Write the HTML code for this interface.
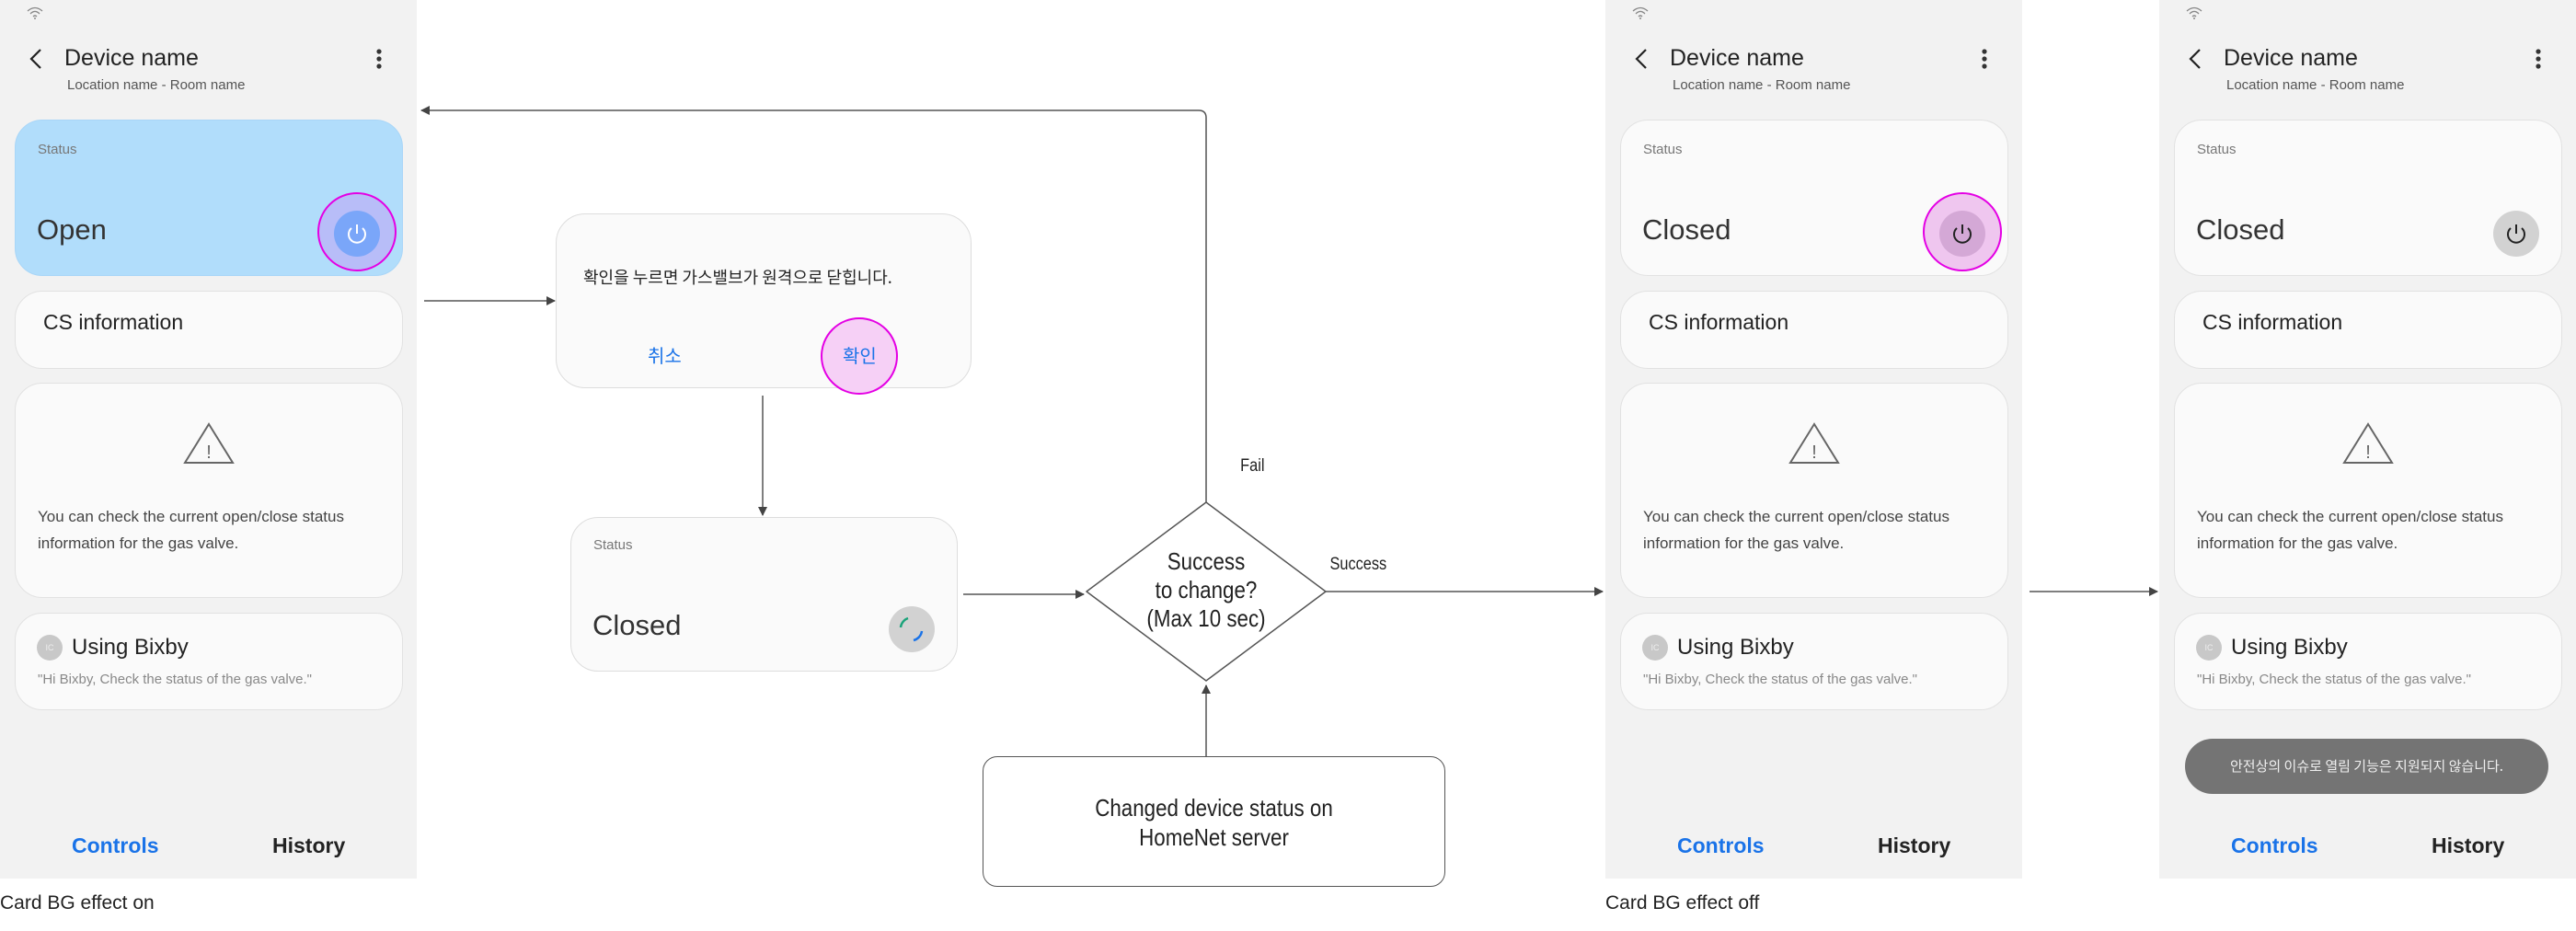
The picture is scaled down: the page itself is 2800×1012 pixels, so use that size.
<!DOCTYPE html>
<html><head><meta charset="utf-8">
<style>
*{box-sizing:border-box;margin:0;padding:0}
body{width:2800px;height:1012px;background:#fff;position:relative;overflow:hidden;font-family:"Liberation Sans","Noto Sans CJK KR",sans-serif;color:#222}
.a{position:absolute;white-space:nowrap}
.ph{position:absolute;top:0;width:453px;height:955px;background:#f2f2f2}
.card{position:absolute;left:16px;width:422px;background:#fafafa;border:1.5px solid #e2e2e2;border-radius:30px}
.t{position:absolute;white-space:nowrap}
.kor{font-family:"Noto Sans CJK KR","Liberation Sans",sans-serif}
.cond{transform:scaleX(0.86);transform-origin:center}
</style></head><body>

<div class="ph" style="left:0">
  <svg class="t" style="left:28px;top:6px" width="20" height="16" viewBox="0 0 20 16"><path d="M2 6 Q10 -1 18 6 M5 9 Q10 4 15 9 M8 12 Q10 10 12 12" stroke="#888" stroke-width="1.3" fill="none"/><circle cx="10" cy="14" r="1" fill="#888"/></svg>
  <svg class="t" style="left:30px;top:52px" width="18" height="24"><path d="M14 2 L4 12 L14 22" stroke="#222" stroke-width="2.2" fill="none"/></svg>
  <div class="t" style="left:70px;top:49px;font-size:25px">Device name</div>
  <div class="t" style="left:73px;top:84px;font-size:15px;color:#555">Location name - Room name</div>
  <svg class="t" style="left:406px;top:52px" width="12" height="26"><circle cx="6" cy="4" r="2.6" fill="#333"/><circle cx="6" cy="12" r="2.6" fill="#333"/><circle cx="6" cy="20" r="2.6" fill="#333"/></svg>
  <div class="card" style="top:130px;height:170px;background:#b1ddfb;border-color:#a9d6f8"></div>
  <div class="t" style="left:41px;top:154px;font-size:15px;color:#777">Status</div>
  <div class="t" style="left:40px;top:232px;font-size:31px;color:#333">Open</div>
  <div class="t" style="left:345px;top:209px;width:86px;height:86px;border-radius:50%;border:2px solid #e400e4;background:#b8bdf8"></div>
  <svg class="t" style="left:361px;top:227px" width="54" height="54"><circle cx="27" cy="27" r="25" fill="#7aa6f9"/><path d="M21 21 A9 9 0 1 0 33 21" stroke="#fff" stroke-width="2" fill="none"/><line x1="27" y1="17" x2="27" y2="27" stroke="#fff" stroke-width="2"/></svg>
  <div class="card" style="top:316px;height:85px"></div>
  <div class="t" style="left:47px;top:337px;font-size:23px">CS information</div>
  <div class="card" style="top:416px;height:234px"></div>
  <svg class="t" style="left:198px;top:458px" width="58" height="48"><path d="M29 3 L55 45 L3 45 Z" stroke="#666" stroke-width="2" fill="none"/><text x="29" y="40" font-size="20" text-anchor="middle" fill="#666" font-family="Liberation Sans">!</text></svg>
  <div class="t" style="left:41px;top:547px;font-size:17px;color:#444;line-height:29px">You can check the current open/close status<br>information for the gas valve.</div>
  <div class="card" style="top:666px;height:106px"></div>
  <div class="t" style="left:40px;top:690px;width:28px;height:28px;border-radius:50%;background:#c8c8c8;color:#eee;font-size:9px;text-align:center;line-height:28px">IC</div>
  <div class="t" style="left:78px;top:690px;font-size:24px">Using Bixby</div>
  <div class="t" style="left:41px;top:730px;font-size:15px;color:#888">"Hi Bixby, Check the status of the gas valve."</div>
  <div class="t" style="left:78px;top:906px;font-size:23px;font-weight:bold;color:#1a73e8">Controls</div>
  <div class="t" style="left:296px;top:906px;font-size:23px;font-weight:bold;color:#222">History</div>
</div>
<div class="a" style="left:0;top:970px;font-size:21px">Card BG effect on</div>

<div class="ph" style="left:1745px">
  <svg class="t" style="left:28px;top:6px" width="20" height="16" viewBox="0 0 20 16"><path d="M2 6 Q10 -1 18 6 M5 9 Q10 4 15 9 M8 12 Q10 10 12 12" stroke="#888" stroke-width="1.3" fill="none"/><circle cx="10" cy="14" r="1" fill="#888"/></svg>
  <svg class="t" style="left:30px;top:52px" width="18" height="24"><path d="M14 2 L4 12 L14 22" stroke="#222" stroke-width="2.2" fill="none"/></svg>
  <div class="t" style="left:70px;top:49px;font-size:25px">Device name</div>
  <div class="t" style="left:73px;top:84px;font-size:15px;color:#555">Location name - Room name</div>
  <svg class="t" style="left:406px;top:52px" width="12" height="26"><circle cx="6" cy="4" r="2.6" fill="#333"/><circle cx="6" cy="12" r="2.6" fill="#333"/><circle cx="6" cy="20" r="2.6" fill="#333"/></svg>
  <div class="card" style="top:130px;height:170px"></div>
  <div class="t" style="left:41px;top:154px;font-size:15px;color:#777">Status</div>
  <div class="t" style="left:40px;top:232px;font-size:31px;color:#333">Closed</div>
  <div class="t" style="left:345px;top:209px;width:86px;height:86px;border-radius:50%;border:2px solid #e400e4;background:#efc6ef"></div>
  <svg class="t" style="left:361px;top:227px" width="54" height="54"><circle cx="27" cy="27" r="25" fill="#d4a8d6"/><path d="M21 21 A9 9 0 1 0 33 21" stroke="#222" stroke-width="2" fill="none"/><line x1="27" y1="17" x2="27" y2="27" stroke="#222" stroke-width="2"/></svg>
  <div class="card" style="top:316px;height:85px"></div>
  <div class="t" style="left:47px;top:337px;font-size:23px">CS information</div>
  <div class="card" style="top:416px;height:234px"></div>
  <svg class="t" style="left:198px;top:458px" width="58" height="48"><path d="M29 3 L55 45 L3 45 Z" stroke="#666" stroke-width="2" fill="none"/><text x="29" y="40" font-size="20" text-anchor="middle" fill="#666" font-family="Liberation Sans">!</text></svg>
  <div class="t" style="left:41px;top:547px;font-size:17px;color:#444;line-height:29px">You can check the current open/close status<br>information for the gas valve.</div>
  <div class="card" style="top:666px;height:106px"></div>
  <div class="t" style="left:40px;top:690px;width:28px;height:28px;border-radius:50%;background:#c8c8c8;color:#eee;font-size:9px;text-align:center;line-height:28px">IC</div>
  <div class="t" style="left:78px;top:690px;font-size:24px">Using Bixby</div>
  <div class="t" style="left:41px;top:730px;font-size:15px;color:#888">"Hi Bixby, Check the status of the gas valve."</div>
  <div class="t" style="left:78px;top:906px;font-size:23px;font-weight:bold;color:#1a73e8">Controls</div>
  <div class="t" style="left:296px;top:906px;font-size:23px;font-weight:bold;color:#222">History</div>
</div>
<div class="a" style="left:1745px;top:970px;font-size:21px">Card BG effect off</div>

<div class="ph" style="left:2347px">
  <svg class="t" style="left:28px;top:6px" width="20" height="16" viewBox="0 0 20 16"><path d="M2 6 Q10 -1 18 6 M5 9 Q10 4 15 9 M8 12 Q10 10 12 12" stroke="#888" stroke-width="1.3" fill="none"/><circle cx="10" cy="14" r="1" fill="#888"/></svg>
  <svg class="t" style="left:30px;top:52px" width="18" height="24"><path d="M14 2 L4 12 L14 22" stroke="#222" stroke-width="2.2" fill="none"/></svg>
  <div class="t" style="left:70px;top:49px;font-size:25px">Device name</div>
  <div class="t" style="left:73px;top:84px;font-size:15px;color:#555">Location name - Room name</div>
  <svg class="t" style="left:406px;top:52px" width="12" height="26"><circle cx="6" cy="4" r="2.6" fill="#333"/><circle cx="6" cy="12" r="2.6" fill="#333"/><circle cx="6" cy="20" r="2.6" fill="#333"/></svg>
  <div class="card" style="top:130px;height:170px"></div>
  <div class="t" style="left:41px;top:154px;font-size:15px;color:#777">Status</div>
  <div class="t" style="left:40px;top:232px;font-size:31px;color:#333">Closed</div>
  <svg class="t" style="left:361px;top:227px" width="54" height="54"><circle cx="27" cy="27" r="25" fill="#d2d2d2"/><path d="M21 21 A9 9 0 1 0 33 21" stroke="#222" stroke-width="2" fill="none"/><line x1="27" y1="17" x2="27" y2="27" stroke="#222" stroke-width="2"/></svg>
  <div class="card" style="top:316px;height:85px"></div>
  <div class="t" style="left:47px;top:337px;font-size:23px">CS information</div>
  <div class="card" style="top:416px;height:234px"></div>
  <svg class="t" style="left:198px;top:458px" width="58" height="48"><path d="M29 3 L55 45 L3 45 Z" stroke="#666" stroke-width="2" fill="none"/><text x="29" y="40" font-size="20" text-anchor="middle" fill="#666" font-family="Liberation Sans">!</text></svg>
  <div class="t" style="left:41px;top:547px;font-size:17px;color:#444;line-height:29px">You can check the current open/close status<br>information for the gas valve.</div>
  <div class="card" style="top:666px;height:106px"></div>
  <div class="t" style="left:40px;top:690px;width:28px;height:28px;border-radius:50%;background:#c8c8c8;color:#eee;font-size:9px;text-align:center;line-height:28px">IC</div>
  <div class="t" style="left:78px;top:690px;font-size:24px">Using Bixby</div>
  <div class="t" style="left:41px;top:730px;font-size:15px;color:#888">"Hi Bixby, Check the status of the gas valve."</div>
  <div class="t kor" style="left:28px;top:803px;width:395px;height:60px;border-radius:30px;background:#747474;color:#eee;font-size:15px;text-align:center;line-height:60px">안전상의 이슈로 열림 기능은 지원되지 않습니다.</div>
  <div class="t" style="left:78px;top:906px;font-size:23px;font-weight:bold;color:#1a73e8">Controls</div>
  <div class="t" style="left:296px;top:906px;font-size:23px;font-weight:bold;color:#222">History</div>
</div>

<div class="a" style="left:604px;top:232px;width:452px;height:190px;border:1.5px solid #ddd;border-radius:32px;background:#fafafa"></div>
<div class="a kor" style="left:634px;top:288px;font-size:18px;color:#222">확인을 누르면 가스밸브가 원격으로 닫힙니다.</div>
<div class="a" style="left:892px;top:345px;width:84px;height:84px;border-radius:50%;border:2px solid #e400e4;background:#f6d0f6"></div>
<div class="a kor" style="left:704px;top:371px;font-size:20px;color:#1a73e8">취소</div>
<div class="a kor" style="left:916px;top:371px;font-size:20px;color:#1a73e8">확인</div>

<div class="a" style="left:620px;top:562px;width:421px;height:168px;border:1.5px solid #ddd;border-radius:30px;background:#fafafa"></div>
<div class="a" style="left:645px;top:584px;font-size:15px;color:#777">Status</div>
<div class="a" style="left:644px;top:662px;font-size:31px;color:#333">Closed</div>
<svg class="a" style="left:965px;top:658px" width="52" height="52"><circle cx="26" cy="26" r="25" fill="#d2d2d2"/><path d="M14 24 A12 12 0 0 1 22 14" stroke="#1aa37a" stroke-width="2.5" fill="none"/><path d="M37 28 A12 12 0 0 1 28 38" stroke="#1a73e8" stroke-width="2.5" fill="none"/></svg>

<div class="a" style="left:1068px;top:822px;width:503px;height:142px;border:1.5px solid #555;border-radius:16px;background:#fff"></div>
<div class="a cond" style="left:1068px;top:862px;width:503px;text-align:center;font-size:26px;line-height:32px">Changed device status on<br>HomeNet server</div>

<svg class="a" style="left:0;top:0" width="2800" height="1012">
  <defs><marker id="ah" markerWidth="10" markerHeight="10" refX="9" refY="5" orient="auto" markerUnits="userSpaceOnUse"><path d="M0 0 L10 5 L0 10 Z" fill="#444"/></marker></defs>
  <g stroke="#555" stroke-width="1.5" fill="none">
    <path d="M1311 546 L1311 128 Q1311 120 1303 120 L458 120" marker-end="url(#ah)"/>
    <line x1="461" y1="327" x2="603" y2="327" marker-end="url(#ah)"/>
    <line x1="829" y1="430" x2="829" y2="560" marker-end="url(#ah)"/>
    <line x1="1047" y1="646" x2="1178" y2="646" marker-end="url(#ah)"/>
    <line x1="1441" y1="643" x2="1742" y2="643" marker-end="url(#ah)"/>
    <line x1="1311" y1="822" x2="1311" y2="745" marker-end="url(#ah)"/>
    <line x1="2206" y1="643" x2="2345" y2="643" marker-end="url(#ah)"/>
    <path d="M1311 546 L1441 643 L1311 740 L1181 643 Z" fill="#fff" stroke="#555" stroke-linejoin="round"/>
  </g>
</svg>
<div class="a cond" style="left:1181px;top:595px;width:260px;text-align:center;font-size:26px;line-height:31px">Success<br>to change?<br>(Max 10 sec)</div>
<div class="a cond" style="left:1346px;top:496px;font-size:19px">Fail</div>
<div class="a cond" style="left:1440px;top:603px;width:78px;font-size:19px">Success</div>
</body></html>
